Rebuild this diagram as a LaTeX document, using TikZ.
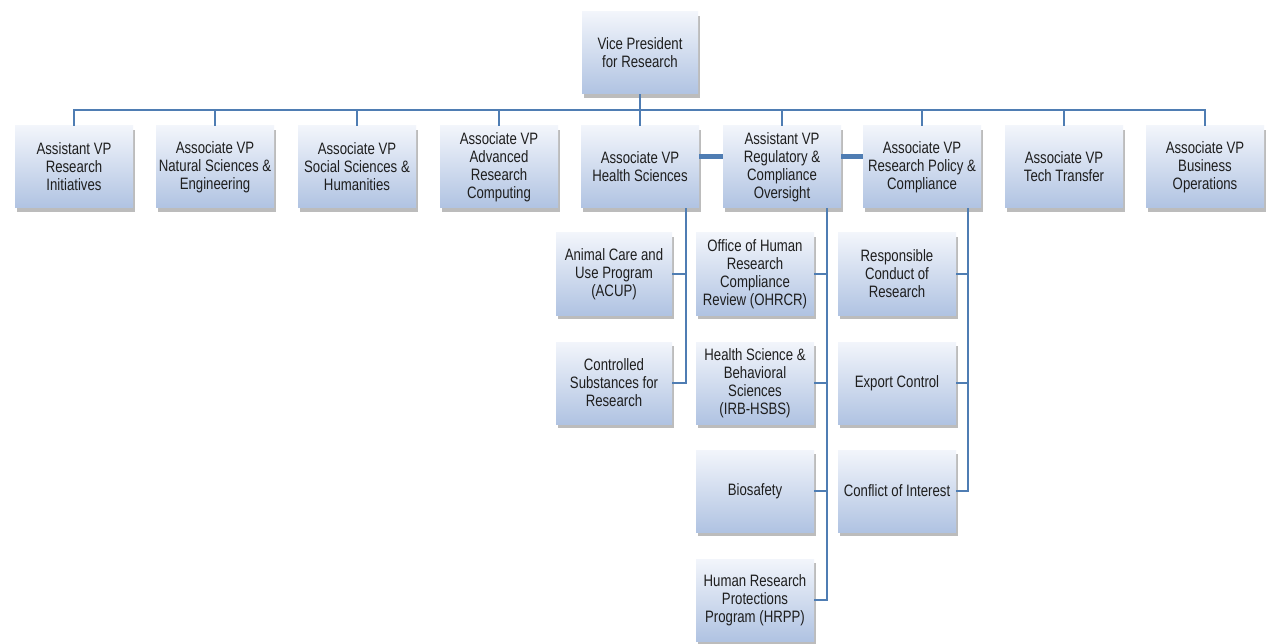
\documentclass[tikz,border=0pt]{standalone}
\usepackage{fontspec}
\setmainfont{Liberation Sans}[FakeStretch=0.8]
\usetikzlibrary{shadows}
\definecolor{lineblue}{HTML}{4F7DB3}
\definecolor{boxtop}{HTML}{F2F5FB}
\definecolor{boxbot}{HTML}{B0C3E2}
\definecolor{txt}{HTML}{1E1E1E}
\tikzset{
  orgbox/.style={minimum width=118pt, minimum height=82pt, inner sep=1pt,
    align=center, text=txt, font=\fontsize{16.5}{18}\selectfont,
    top color=boxtop, bottom color=boxbot, draw=none,
    drop shadow={shadow xshift=2pt, shadow yshift=-4pt, opacity=0.35, fill=black!75}},
  conn/.style={draw=lineblue, line width=2pt},
  thickconn/.style={draw=lineblue, line width=5pt}
}
\begin{document}
\begin{tikzpicture}[x=1pt,y=-1pt]
\useasboundingbox (0,0) rectangle (1266,644);
\fill[white] (0,0) rectangle (1266,644);
% top
\node[orgbox, minimum width=116pt] (vp) at (640,53) {Vice President\\for Research};
% row 1
\node[orgbox] (b1) at (74,167) {Assistant VP\\Research\\Initiatives};
\node[orgbox] (b2) at (215,167) {Associate VP\\Natural Sciences \&\\Engineering};
\node[orgbox] (b3) at (357,167) {Associate VP\\Social Sciences \&\\Humanities};
\node[orgbox] (b4) at (499,167) {Associate VP\\Advanced\\Research\\Computing};
\node[orgbox] (b5) at (640,167) {Associate VP\\Health Sciences};
\node[orgbox] (b6) at (782,167) {Assistant VP\\Regulatory \&\\Compliance\\Oversight};
\node[orgbox] (b7) at (922,167) {Associate VP\\Research Policy \&\\Compliance};
\node[orgbox] (b8) at (1064,167) {Associate VP\\Tech Transfer};
\node[orgbox] (b9) at (1205,167) {Associate VP\\Business\\Operations};
% health sciences children
\node[orgbox, minimum width=116pt] (acup) at (614,274) {Animal Care and\\Use Program\\(ACUP)};
\node[orgbox, minimum width=116pt] (cs) at (614,383) {Controlled\\Substances for\\Research};
% regulatory children
\node[orgbox] (ohrcr) at (755,274) {Office of Human\\Research\\Compliance\\Review (OHRCR)};
\node[orgbox] (irb) at (755,383) {Health Science \&\\Behavioral\\Sciences\\(IRB-HSBS)};
\node[orgbox] (bio) at (755,491) {Biosafety};
\node[orgbox] (hrpp) at (755,600) {Human Research\\Protections\\Program (HRPP)};
% research policy children
\node[orgbox] (rcr) at (897,274) {Responsible\\Conduct of\\Research};
\node[orgbox] (exp) at (897,383) {Export Control};
\node[orgbox] (coi) at (897,491) {Conflict of Interest};
% connectors
\foreach \b in {b1,b2,b3,b4,b5,b6,b7,b8,b9}
  \draw[conn] (vp.south) -- ++(0,16) -| (\b.north);
\draw[thickconn] ([yshift=10pt]b5.east) -- ([yshift=10pt]b6.west);
\draw[thickconn] ([yshift=10pt]b6.east) -- ([yshift=10pt]b7.west);
\foreach \c in {acup,cs}
  \draw[conn] ([xshift=46pt]b5.south) |- (\c.east);
\foreach \c in {ohrcr,irb,bio,hrpp}
  \draw[conn] ([xshift=45pt]b6.south) |- (\c.east);
\foreach \c in {rcr,exp,coi}
  \draw[conn] ([xshift=46pt]b7.south) |- (\c.east);
\end{tikzpicture}
\end{document}
